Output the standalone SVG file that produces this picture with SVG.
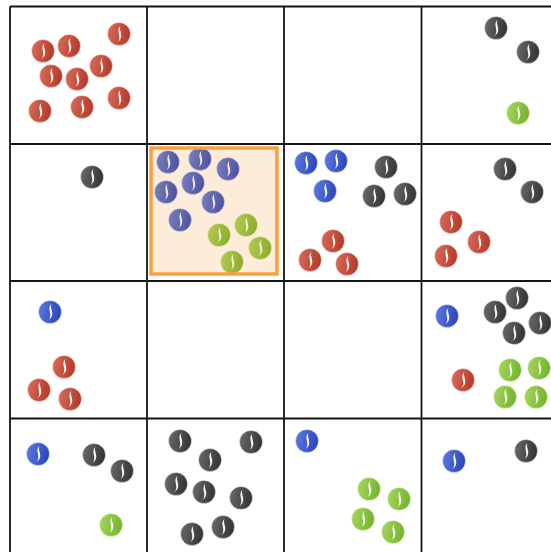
<svg xmlns="http://www.w3.org/2000/svg" xmlns:xlink="http://www.w3.org/1999/xlink" width="551" height="552" viewBox="0 0 551 552">
<style>
.grid line{stroke:#141414;stroke-width:1.8}
.crease{fill:#ffffff;stroke:none;opacity:0.95}
.rim{stroke:#ffffff;stroke-opacity:0.6;stroke-width:0.8}
.hl{fill:#f59632;fill-opacity:0.18;stroke:#f7a23e;stroke-width:3.5}
</style>
<defs>
<linearGradient id="gR" x1="0" y1="0" x2="1" y2="0.2"><stop offset="0" stop-color="#dc6c5c"/><stop offset="1" stop-color="#b53c2a"/></linearGradient>
<linearGradient id="gB" x1="0" y1="0" x2="1" y2="0.2"><stop offset="0" stop-color="#5f7ce2"/><stop offset="1" stop-color="#2c47bc"/></linearGradient>
<linearGradient id="gD" x1="0" y1="0" x2="1" y2="0.2"><stop offset="0" stop-color="#6c6c6c"/><stop offset="1" stop-color="#363636"/></linearGradient>
<linearGradient id="gG" x1="0" y1="0" x2="1" y2="0.2"><stop offset="0" stop-color="#a8d860"/><stop offset="1" stop-color="#76b52e"/></linearGradient>
<path id="s" class="crease" d="M1.5,-8.2 C-4,-3 3.5,2 -1.5,8.2 C6.5,2.5 -1,-3.5 1.5,-8.2 Z"/>
<g id="red"><circle r="11.5" fill="url(#gR)" class="rim"/><use href="#s"/></g>
<g id="blue"><circle r="11.5" fill="url(#gB)" class="rim"/><use href="#s"/></g>
<g id="dark"><circle r="11.5" fill="url(#gD)" class="rim"/><use href="#s"/></g>
<g id="green"><circle r="11.5" fill="url(#gG)" class="rim"/><use href="#s"/></g>
</defs>
<rect width="551" height="552" fill="#ffffff"/>
<g id="grid" class="grid">
<line x1="10" y1="6.5" x2="551" y2="6.5"/>
<line x1="10" y1="144" x2="551" y2="144"/>
<line x1="10" y1="281" x2="551" y2="281"/>
<line x1="10" y1="418.5" x2="551" y2="418.5"/>
<line x1="10" y1="6.5" x2="10" y2="552"/>
<line x1="147" y1="6.5" x2="147" y2="552"/>
<line x1="284" y1="6.5" x2="284" y2="552"/>
<line x1="421.5" y1="6.5" x2="421.5" y2="552"/>
</g>
<g id="cell-0-0">
<use href="#red" x="43" y="51"/><use href="#red" x="69" y="46"/><use href="#red" x="119" y="34"/>
<use href="#red" x="51" y="76"/><use href="#red" x="77" y="79"/><use href="#red" x="101" y="66"/>
<use href="#red" x="40" y="111"/><use href="#red" x="82" y="107"/><use href="#red" x="119" y="98"/>
</g>
<g id="cell-0-3">
<use href="#dark" x="496" y="28"/><use href="#dark" x="528" y="52"/><use href="#green" x="518" y="113"/>
</g>
<g id="cell-1-0"><use href="#dark" x="92" y="177"/></g>
<g id="cell-1-1">
<use href="#blue" x="168" y="162"/><use href="#blue" x="200" y="159"/><use href="#blue" x="228" y="169"/>
<use href="#blue" x="166" y="192"/><use href="#blue" x="193" y="183"/><use href="#blue" x="213" y="202"/>
<use href="#blue" x="180" y="220"/>
<use href="#green" x="219" y="235"/><use href="#green" x="246" y="225"/><use href="#green" x="260" y="248"/><use href="#green" x="232" y="262"/>
<rect class="hl" x="151" y="148" width="126" height="126"/>
</g>
<g id="cell-1-2">
<use href="#blue" x="306" y="163"/><use href="#blue" x="336" y="161"/><use href="#blue" x="325" y="191"/>
<use href="#dark" x="386" y="167"/><use href="#dark" x="374" y="196"/><use href="#dark" x="405" y="194"/>
<use href="#red" x="333" y="241"/><use href="#red" x="310" y="260"/><use href="#red" x="347" y="264"/>
</g>
<g id="cell-1-3">
<use href="#dark" x="505" y="169"/><use href="#dark" x="532" y="192"/>
<use href="#red" x="451" y="222"/><use href="#red" x="479" y="242"/><use href="#red" x="446" y="256"/>
</g>
<g id="cell-2-0">
<use href="#blue" x="50" y="312"/>
<use href="#red" x="64" y="367"/><use href="#red" x="39" y="390"/><use href="#red" x="70" y="399"/>
</g>
<g id="cell-2-3">
<use href="#blue" x="447" y="316"/>
<use href="#dark" x="517" y="298"/><use href="#dark" x="495" y="312"/><use href="#dark" x="540" y="323"/><use href="#dark" x="514" y="333"/>
<use href="#red" x="463" y="380"/>
<use href="#green" x="510" y="370"/><use href="#green" x="539" y="368"/><use href="#green" x="505" y="397"/><use href="#green" x="536" y="397"/>
</g>
<g id="cell-3-0">
<use href="#blue" x="38" y="454"/>
<use href="#dark" x="94" y="455"/><use href="#dark" x="122" y="471"/>
<use href="#green" x="111" y="525"/>
</g>
<g id="cell-3-1">
<use href="#dark" x="180" y="441"/><use href="#dark" x="251" y="442"/><use href="#dark" x="210" y="460"/>
<use href="#dark" x="176" y="484"/><use href="#dark" x="204" y="492"/><use href="#dark" x="241" y="498"/>
<use href="#dark" x="192" y="534"/><use href="#dark" x="223" y="527"/>
</g>
<g id="cell-3-2">
<use href="#blue" x="307" y="441"/>
<use href="#green" x="369" y="489"/><use href="#green" x="399" y="499"/><use href="#green" x="363" y="519"/><use href="#green" x="393" y="532"/>
</g>
<g id="cell-3-3">
<use href="#blue" x="454" y="461"/><use href="#dark" x="526" y="451"/>
</g>
</svg>
